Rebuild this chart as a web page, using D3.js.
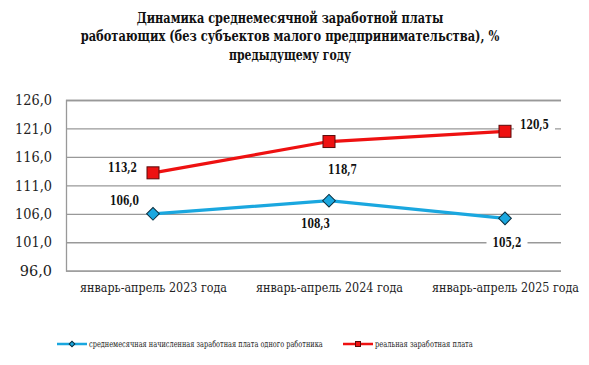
<!DOCTYPE html>
<html><head><meta charset="utf-8">
<script src="https://cdn.jsdelivr.net/npm/d3@7"></script>
<style>body{margin:0;background:#fff}svg{display:block}svg text{font-family:"DejaVu Serif",serif}</style>
</head><body>
<svg id="c" width="589" height="365"></svg>
<script>
const titleLines = ["Динамика среднемесячной заработной платы", "работающих (без субъектов малого предпринимательства), %", "предыдущему году"];
const categories = ["январь-апрель 2023 года", "январь-апрель 2024 года", "январь-апрель 2025 года"];
const nominal = [106.0, 108.3, 105.2];
const real = [113.2, 118.7, 120.5];
const yTicks = [96, 101, 106, 111, 116, 121, 126];
const seriesNames = ["среднемесячная начисленная заработная плата одного работника", "реальная заработная плата"];

const svg = d3.select("#c");
const blue = "#1aa7df", red = "#ee1111";

const plotL = 66, plotR = 561, plotT = 100, plotB = 270.7;
const x = d3.scalePoint().domain(categories).range([153, 505]);
const y = d3.scaleLinear().domain([96, 126]).range([plotB, plotT]);

// condense a text horizontally (around its anchor x) so it is at most w wide
function fit(sel, w) {
  sel.each(function () {
    const bw = this.getComputedTextLength();
    if (bw > w) {
      const ax = +(this.getAttribute("x") || 0), s = w / bw;
      d3.select(this).attr("transform", `translate(${ax},0) scale(${s},1) translate(${-ax},0)`);
    }
  });
}

// title
const titleW = [307, 419, 122];
svg.append("g").selectAll("text").data(titleLines).join("text")
  .attr("x", 290).attr("y", (d, i) => 23 + i * 18.3)
  .attr("text-anchor", "middle")
  .attr("font-weight", "bold").attr("font-size", 14.5).attr("fill", "#111").text(d => d)
  .each(function (d, i) { fit(d3.select(this), titleW[i]); });

// y axis & gridlines
const yAxis = d3.axisLeft(y).tickValues(yTicks).tickSize(-(plotR - plotL)).tickPadding(14)
  .tickFormat(d => d3.format(".1f")(d).replace(".", ","));
const ga = svg.append("g").attr("transform", `translate(${plotL},0)`).call(yAxis);
ga.attr("font-family", null);
ga.select(".domain").attr("stroke", "#999").attr("stroke-width", 1.3);
ga.selectAll(".tick line").attr("stroke", "#999").attr("stroke-width", 1.3);
ga.selectAll(".tick text").attr("font-size", 14.5).attr("fill", "#222").call(fit, 37);

// x axis labels
const xAxis = d3.axisBottom(x).tickSize(0).tickPadding(12);
const gx = svg.append("g").attr("transform", `translate(0,${plotB})`).call(xAxis);
gx.attr("font-family", null);
gx.select(".domain").remove();
gx.selectAll(".tick text").attr("font-size", 13).attr("fill", "#222").call(fit, 147);

// lines
const line = d3.line().x((d, i) => x(categories[i])).y(d => y(d));
svg.append("path").datum(nominal).attr("d", line).attr("fill", "none").attr("stroke", blue).attr("stroke-width", 3.2);
svg.append("path").datum(real).attr("d", line).attr("fill", "none").attr("stroke", red).attr("stroke-width", 3.2);

// markers
const diamond = (sel, cx, cy, s) => sel.append("rect").attr("x", cx - s / 2).attr("y", cy - s / 2)
  .attr("width", s).attr("height", s).attr("transform", `rotate(45,${cx},${cy})`)
  .attr("fill", blue).attr("stroke", "#0b2f3f").attr("stroke-width", 1);
const square = (sel, cx, cy, s) => sel.append("rect").attr("x", cx - s / 2).attr("y", cy - s / 2)
  .attr("width", s).attr("height", s).attr("fill", red).attr("stroke", "#5a0a0a").attr("stroke-width", 1);
nominal.forEach((v, i) => diamond(svg, x(categories[i]), y(v), 9));
real.forEach((v, i) => square(svg, x(categories[i]), y(v), 12));

// data labels
const fmt = v => d3.format(".1f")(v).replace(".", ",");
const nomOff = [[-28.5, -13], [-13.5, 23], [2, 24]];
const realOff = [[-30.5, -6], [13.5, 27.5], [29.5, -7]];
function label(v, cx, cy) {
  const g = svg.append("g");
  const t = g.append("text").attr("x", cx).attr("y", cy).attr("dy", "0.36em")
    .attr("text-anchor", "middle").attr("font-weight", "bold")
    .attr("font-size", 13).attr("fill", "#111").text(fmt(v));
  fit(t, 29);
  const b = t.node().getBBox();
  g.insert("rect", "text").attr("x", cx - 14.5 - 6).attr("y", b.y).attr("width", 29 + 12)
    .attr("height", b.height).attr("fill", "#fff");
}
nominal.forEach((v, i) => label(v, x(categories[i]) + nomOff[i][0], y(v) + nomOff[i][1]));
real.forEach((v, i) => label(v, x(categories[i]) + realOff[i][0], y(v) + realOff[i][1]));

// legend
const lg = svg.append("g");
const legendItems = [{ x: 57, color: blue, type: "d", w: 234 }, { x: 343, color: red, type: "s", w: 98 }];
legendItems.forEach((it, i) => {
  lg.append("line").attr("x1", it.x).attr("x2", it.x + 30).attr("y1", 344).attr("y2", 344)
    .attr("stroke", it.color).attr("stroke-width", 2.5);
  if (it.type === "d") diamond(lg, it.x + 15, 344, 4);
  else square(lg, it.x + 15, 344, 5);
  lg.append("text").attr("x", it.x + 32).attr("y", 344).attr("dy", "0.35em")
    .attr("font-size", 9).attr("fill", "#222").text(seriesNames[i]).call(fit, it.w);
});
</script>
</body></html>
